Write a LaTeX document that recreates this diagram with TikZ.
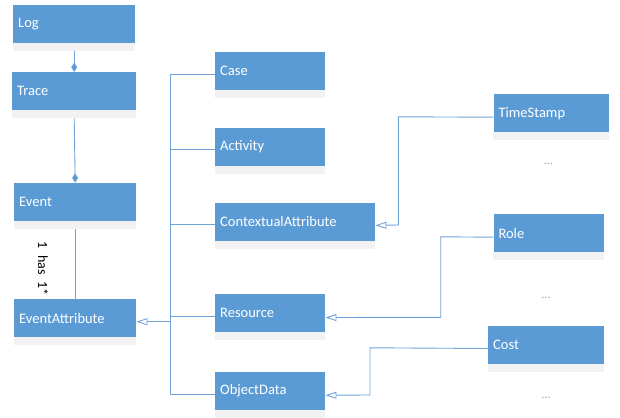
\documentclass[tikz,border=0pt]{standalone}
\usepackage{fontspec}
\setmainfont{Carlito}
\usetikzlibrary{arrows.meta}
\definecolor{boxblue}{HTML}{5B9BD5}
\definecolor{linkblue}{HTML}{6FA3DA}
\definecolor{stripgrey}{HTML}{F2F2F2}
\definecolor{dotblue}{HTML}{7FA7D6}
\tikzset{
  cls/.style={fill=boxblue, draw=none, anchor=north west, inner xsep=5pt, inner ysep=0pt,
    minimum height=38pt, text=white, align=left,
    font=\fontsize{14.5}{17}\selectfont},
  strip/.style={fill=stripgrey},
  conn/.style={draw=linkblue, line width=0.9pt},
  comp/.style={conn, -{Diamond[length=9.5pt,width=6pt,fill=boxblue]}},
  gen/.style={conn, -{Triangle[open,length=11pt,width=7pt,fill=white]}},
  more/.style={text=dotblue, font=\fontsize{12}{14}\selectfont, inner sep=0pt},
  lbl/.style={text=black, font=\fontsize{14}{16}\selectfont, inner sep=0pt, rotate=-90}
}
% \classbox{name}{left}{top}{width}{text}: class box with its grey compartment
\newcommand{\classbox}[5]{%
  \pgfmathsetmacro\clstw{#4-10}%
  \node[cls, minimum width=#4pt, text width=\clstw pt] (#1) at (#2,#3) {#5};
  \fill[strip] (#1.south west) rectangle ([yshift=-8pt]#1.south east);
}
\begin{document}
\begin{tikzpicture}[x=1pt,y=-1pt]
\useasboundingbox (0,0) rectangle (620,417);

% left column
\classbox{log}{13}{4.5}{122}{Log}
\classbox{trace}{12}{72}{124}{Trace}
\classbox{event}{14}{182.7}{122}{Event}
\classbox{evattr}{14}{299}{122}{EventAttribute}

% middle column
\classbox{case}{215}{52}{110}{Case}
\classbox{activity}{215}{127.3}{110}{Activity}
\classbox{ctx}{215}{202.5}{160}{ContextualAttribute}
\classbox{resource}{215}{294}{110}{Resource}
\classbox{objdata}{215}{372}{110}{ObjectData}

% right column
\classbox{timestamp}{493.3}{94}{115.7}{TimeStamp}
\classbox{role}{493.3}{214}{110.4}{Role}
\classbox{cost}{488}{325.3}{115.7}{Cost}

\node[more] (tsmore) at (548.5,164) {...};
\node[more] (rolemore) at (546,297.5) {...};
\node[more] (costmore) at (546,397.5) {...};

% composition chain
\draw[comp] ([yshift=-8pt]log.south) -- (trace.north);
\draw[comp] ([yshift=-8pt]trace.south) -- (event.north);
\draw[conn] ([yshift=-8pt]event.south) -- (evattr.north);
\node[lbl] (mult) at (43,268.5) {1\hspace{0.5em}has\hspace{0.5em}1*};

% generalisation spine into EventAttribute
\draw[conn] ([yshift=-3pt]case.west) -- ++(-45,0) |- ([yshift=-3pt]objdata.west);
\draw[conn] ([yshift=-3pt]activity.west) -- ++(-45,0);
\draw[conn] ([yshift=-3pt]ctx.west) -- ++(-45,0);
\draw[conn] ([yshift=-3pt]resource.west) -- ++(-45,0);
\coordinate (join) at (170,321.7);
\draw[gen] (join) -- (evattr.east |- join);

% specialisations on the right
\draw[gen] ([yshift=-4pt]timestamp.west) -- (398.3,116.8) -- (398.3,225) -- ([yshift=-3.7pt]ctx.east);
\draw[gen] ([yshift=-4pt]role.west) -- (440.7,236.8) -- (440.7,317.3) -- ([yshift=-4.3pt]resource.east);
\draw[gen] ([yshift=-4pt]cost.west) -- (370,347.8) -- (370,395) -- ([yshift=-4pt]objdata.east);
\end{tikzpicture}
\end{document}
